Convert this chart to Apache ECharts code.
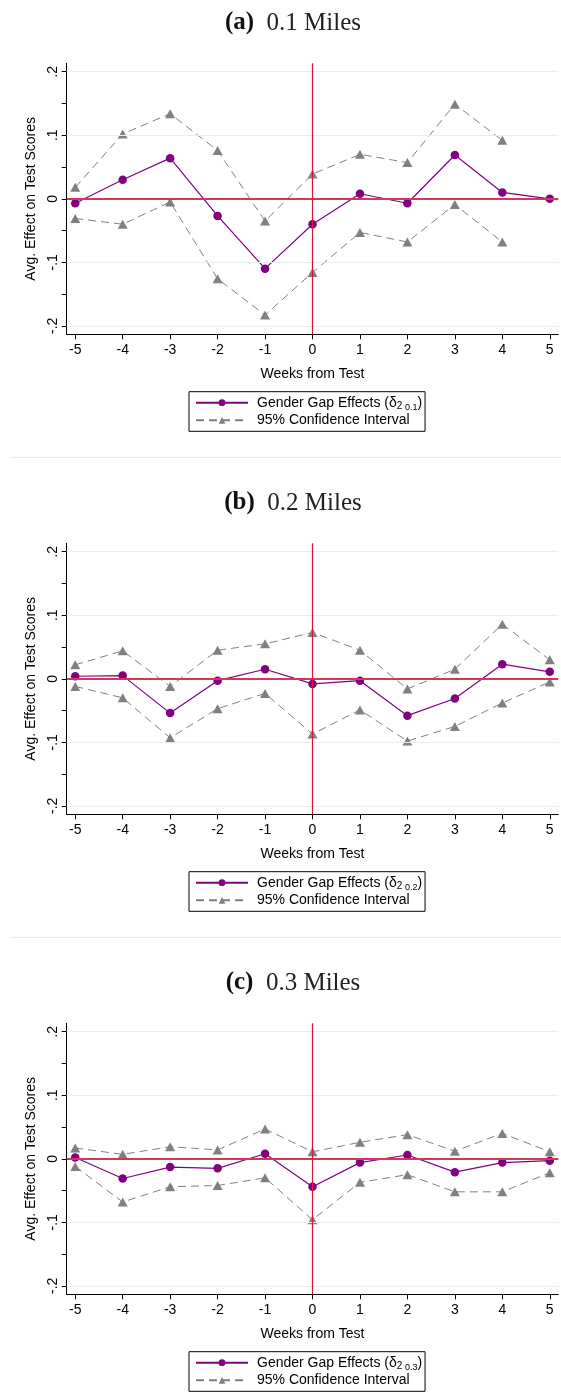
<!DOCTYPE html>
<html>
<head>
<meta charset="utf-8">
<title>Gender gap effects by distance</title>
<script src="https://cdn.jsdelivr.net/npm/echarts@6/dist/echarts.min.js"></script>
<style>
  html, body { margin: 0; padding: 0; background: #fff; }
  #chart { width: 561px; height: 1397px; }
</style>
</head>
<body>
<div id="chart"></div>
<script>
// weeks from test (x axis)
var weeks = [-5, -4, -3, -2, -1, 0, 1, 2, 3, 4, 5]
var yTicks = [-0.2, -0.15, -0.1, -0.05, 0, 0.05, 0.1, 0.15, 0.2]
var yLabels = [-0.2, -0.1, 0, 0.1, 0.2]
var gridLines = [-0.2, -0.1, 0.1, 0.2]

// (a) 0.1 miles
var effA = [-0.007, 0.030, 0.064, -0.027, -0.110, -0.040, 0.008, -0.007, 0.069, 0.010, 0.000]
var upA = [0.018, 0.102, 0.134, 0.076, -0.035, 0.039, 0.070, 0.057, 0.149, 0.092, null]
var loA = [-0.031, -0.040, -0.005, -0.126, -0.183, -0.116, -0.053, -0.068, -0.009, -0.068, null]

// (b) 0.2 miles
var effB = [0.004, 0.005, -0.054, -0.003, 0.015, -0.008, -0.003, -0.058, -0.031, 0.023, 0.011]
var upB = [0.022, 0.044, -0.012, 0.045, 0.055, 0.073, 0.045, -0.016, 0.015, 0.086, 0.030]
var loB = [-0.012, -0.030, -0.093, -0.047, -0.023, -0.087, -0.049, -0.098, -0.075, -0.038, -0.005]

// (c) 0.3 miles
var effC = [0.002, -0.031, -0.013, -0.015, 0.008, -0.044, -0.006, 0.006, -0.021, -0.006, -0.003]
var upC = [0.017, 0.007, 0.019, 0.014, 0.047, 0.011, 0.026, 0.038, 0.012, 0.040, 0.011]
var loC = [-0.012, -0.068, -0.044, -0.042, -0.030, -0.096, -0.037, -0.025, -0.052, -0.052, -0.022]

var panelTags = ['(a)', '(b)', '(c)']
var panelTitles = ['0.1 Miles', '0.2 Miles', '0.3 Miles']
var panelSubs = ['0.1', '0.2', '0.3']
var panelEff = [effA, effB, effC]
var panelUp = [upA, upB, upC]
var panelLo = [loA, loB, loC]

var ciName = '95% Confidence Interval'
var sans = 'Liberation Sans, Arial, sans-serif'
var serif = 'Liberation Serif, Times New Roman, serif'
var STEP = 480 // each panel is 480px tall

function pairs (arr) {
  var out = []
  for (var i = 0; i < weeks.length; i++) {
    if (arr[i] !== null) out.push([weeks[i], arr[i]])
  }
  return out
}

function yFmt (v) {
  if (Math.abs(v) < 1e-9) return '0'
  var s = v.toFixed(1)
  return s.replace('0.', '.')
}

var grids = []
var xAxes = []
var yAxes = []
var series = []
var legends = []
var graphics = []

for (var i = 0; i < 3; i++) {
  var off = STEP * i
  var effName = 'Gender Gap Effects (δ2 ' + panelSubs[i] + ')'

  grids.push({ left: 66.7, top: 63.3 + off, width: 491.6, height: 271, outerBoundsMode: 'none' })

  xAxes.push({
    gridIndex: i,
    type: 'value',
    min: -5.18,
    max: 5.18,
    name: 'Weeks from Test',
    nameLocation: 'middle',
    nameGap: 33,
    nameTextStyle: { fontFamily: sans, fontSize: 14, color: '#000' },
    axisLine: { show: true, onZero: false, lineStyle: { color: '#000', width: 1 } },
    axisTick: { show: true, customValues: weeks, length: 5, lineStyle: { color: '#000' } },
    axisLabel: { customValues: weeks, margin: 9, fontFamily: sans, fontSize: 14, color: '#000' },
    splitLine: { show: false }
  })

  yAxes.push({
    gridIndex: i,
    type: 'value',
    min: -0.2133,
    max: 0.2133,
    name: 'Avg. Effect on Test Scores',
    nameLocation: 'middle',
    nameRotate: 90,
    nameGap: 21,
    nameTextStyle: { fontFamily: sans, fontSize: 14, color: '#000' },
    axisLine: { show: true, onZero: false, lineStyle: { color: '#000', width: 1 } },
    axisTick: { show: true, customValues: yTicks, length: 5, lineStyle: { color: '#000' } },
    axisLabel: { customValues: yLabels, rotate: 90, margin: 7, fontFamily: sans, fontSize: 14, color: '#000', formatter: yFmt },
    splitLine: { show: false }
  })

  // reference lines: light grid, red zero line and red line at week 0
  var refs = gridLines.map(function (v) {
    return { yAxis: v, lineStyle: { color: '#e6eef0', width: 1, type: 'solid' } }
  })
  refs.push({ yAxis: 0, lineStyle: { color: '#cf3a5a', width: 1.8, type: 'solid' } })
  refs.push({ xAxis: 0, lineStyle: { color: '#dc143c', width: 1.2, type: 'solid' } })
  series.push({
    type: 'line',
    xAxisIndex: i,
    yAxisIndex: i,
    data: [],
    silent: true,
    z: 1,
    markLine: { silent: true, symbol: ['none', 'none'], label: { show: false }, data: refs }
  })

  var ciStyle = {
    type: 'line',
    name: ciName,
    xAxisIndex: i,
    yAxisIndex: i,
    z: 3,
    symbol: 'triangle',
    symbolSize: [10, 9],
    itemStyle: { color: '#808080' },
    lineStyle: { color: '#808080', width: 1, type: [8, 5] },
    emphasis: { disabled: true }
  }
  series.push(Object.assign({}, ciStyle, { data: pairs(panelUp[i]) }))
  series.push(Object.assign({}, ciStyle, { data: pairs(panelLo[i]) }))

  series.push({
    type: 'line',
    name: effName,
    xAxisIndex: i,
    yAxisIndex: i,
    z: 4,
    data: pairs(panelEff[i]),
    symbol: 'circle',
    symbolSize: 8.5,
    itemStyle: { color: '#800080' },
    lineStyle: { color: '#800080', width: 1.2 },
    emphasis: { disabled: true }
  })

  legends.push({
    orient: 'vertical',
    left: 189,
    top: 391.7 + off,
    data: [effName, ciName],
    padding: [4, 3, 4, 6],
    itemGap: 1.6,
    itemWidth: 52,
    itemHeight: 8.5,
    borderColor: '#000',
    borderWidth: 1,
    borderRadius: 0,
    backgroundColor: '#fff',
    selectedMode: false,
    formatter: function (name) {
      var m = name.match(/^Gender Gap Effects \(δ2 ([\d.]+)\)$/)
      if (m) return '{n|Gender Gap Effects (δ}{s|2}{t| ' + m[1] + '}{n|)}'
      return '{n|' + name + '}'
    },
    textStyle: {
      padding: [0, 0, 0, 4],
      color: '#000',
      fontFamily: sans,
      fontSize: 14,
      rich: {
        n: { fontFamily: sans, fontSize: 14, lineHeight: 18, color: '#000' },
        s: { fontFamily: sans, fontSize: 10, lineHeight: 12, verticalAlign: 'bottom', color: '#000' },
        t: { fontFamily: sans, fontSize: 9, lineHeight: 11, verticalAlign: 'bottom', color: '#000' }
      }
    }
  })

  graphics.push({
    type: 'text',
    x: 293,
    y: 23 + off,
    silent: true,
    style: {
      text: '{b|' + panelTags[i] + '}{r|  ' + panelTitles[i] + '}',
      align: 'center',
      verticalAlign: 'middle',
      fill: '#111',
      rich: {
        b: { fontFamily: serif, fontWeight: 'bold', fontSize: 25, fill: '#111' },
        r: { fontFamily: serif, fontSize: 25, fill: '#222' }
      }
    }
  })

  if (i < 2) {
    graphics.push({
      type: 'line',
      silent: true,
      shape: { x1: 11, y1: 457.5 + off, x2: 561, y2: 457.5 + off },
      style: { stroke: '#e8e8e8', lineWidth: 1 }
    })
  }
}

var myChart = echarts.init(document.getElementById('chart'))
var option = {
  animation: false,
  backgroundColor: '#fff',
  grid: grids,
  xAxis: xAxes,
  yAxis: yAxes,
  legend: legends,
  graphic: graphics,
  series: series
}
myChart.setOption(option)
</script>
</body>
</html>
